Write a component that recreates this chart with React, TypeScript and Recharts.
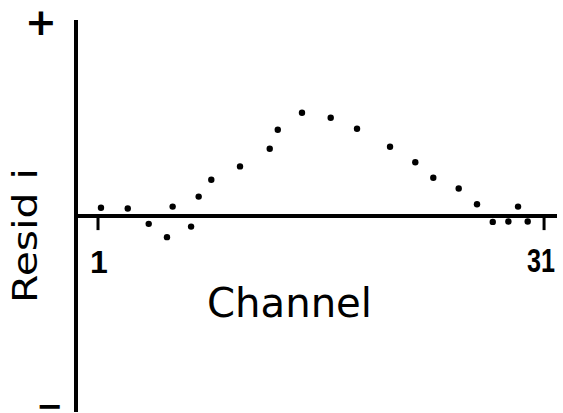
import React from 'react';
import { ScatterChart, Scatter, XAxis, YAxis, ReferenceLine } from 'recharts';

const channels = [1.2, 3.0, 4.41, 5.64, 6.02, 7.26, 7.77, 8.62, 10.55, 12.55, 13.09, 14.72, 16.65, 18.42, 20.64, 22.34, 23.55, 25.26, 26.49, 27.55, 28.6, 29.25, 29.9];
const residuals = [0.042, 0.038, -0.04, -0.108, 0.048, -0.054, 0.099, 0.185, 0.253, 0.343, 0.44, 0.527, 0.501, 0.445, 0.353, 0.274, 0.195, 0.14, 0.06, -0.03, -0.028, 0.048, -0.028];
const xTicks = [1, 31];
const xDomain = [-0.48, 31.87];
const yDomain = [-1, 1];

const data = channels.map((x, i) => ({ x, y: residuals[i] }));

const FONT = '"DejaVu Sans", sans-serif';
const NUMFONT = '"Liberation Sans", Arial, sans-serif';

const Dot = (props: any) => <circle cx={props.cx} cy={props.cy} r={3.2} fill="#000" />;

export default function App() {
  return (
    <div style={{ position: 'absolute', left: 0, top: 0, width: 563, height: 413, background: '#fff' }}>
      <ScatterChart width={563} height={413} margin={{ top: 20, right: 6, bottom: 1, left: 76 }}>
        <XAxis type="number" dataKey="x" domain={xDomain} hide allowDataOverflow />
        <YAxis type="number" dataKey="y" domain={yDomain} hide allowDataOverflow />
        <ReferenceLine x={xDomain[0]} stroke="#000" strokeWidth={4} />
        <ReferenceLine y={0} stroke="#000" strokeWidth={4} />
        {xTicks.map((t) => (
          <ReferenceLine key={t} segment={[{ x: t, y: 0 }, { x: t, y: -0.072 }]} stroke="#000" strokeWidth={3} />
        ))}
        <Scatter data={data} shape={Dot} isAnimationActive={false} />
        <text x={41} y={35} textAnchor="middle" fontFamily={FONT} fontWeight="bold" fontSize={38} fill="#000">+</text>
        <text x={50} y={417} textAnchor="middle" fontFamily={FONT} fontWeight="bold" fontSize={32} fill="#000">−</text>
        <text x={99} y={273} textAnchor="middle" fontFamily={NUMFONT} fontWeight="bold" fontSize={32} fill="#000">{String(xTicks[0])}</text>
        <text x={541} y={272} textAnchor="middle" fontFamily={NUMFONT} fontWeight="bold" fontSize={33} fill="#000" textLength={28} lengthAdjust="spacingAndGlyphs">{String(xTicks[1])}</text>
        <text x={289.5} y={317} textAnchor="middle" fontFamily={FONT} fontSize={40} fill="#000" textLength={165} lengthAdjust="spacingAndGlyphs">Channel</text>
        <text x={37} y={235.5} transform="rotate(-90, 37, 235.5)" textAnchor="middle" fontFamily={FONT} fontSize={33} fill="#000" textLength={135} lengthAdjust="spacingAndGlyphs">Resid i</text>
      </ScatterChart>
    </div>
  );
}
